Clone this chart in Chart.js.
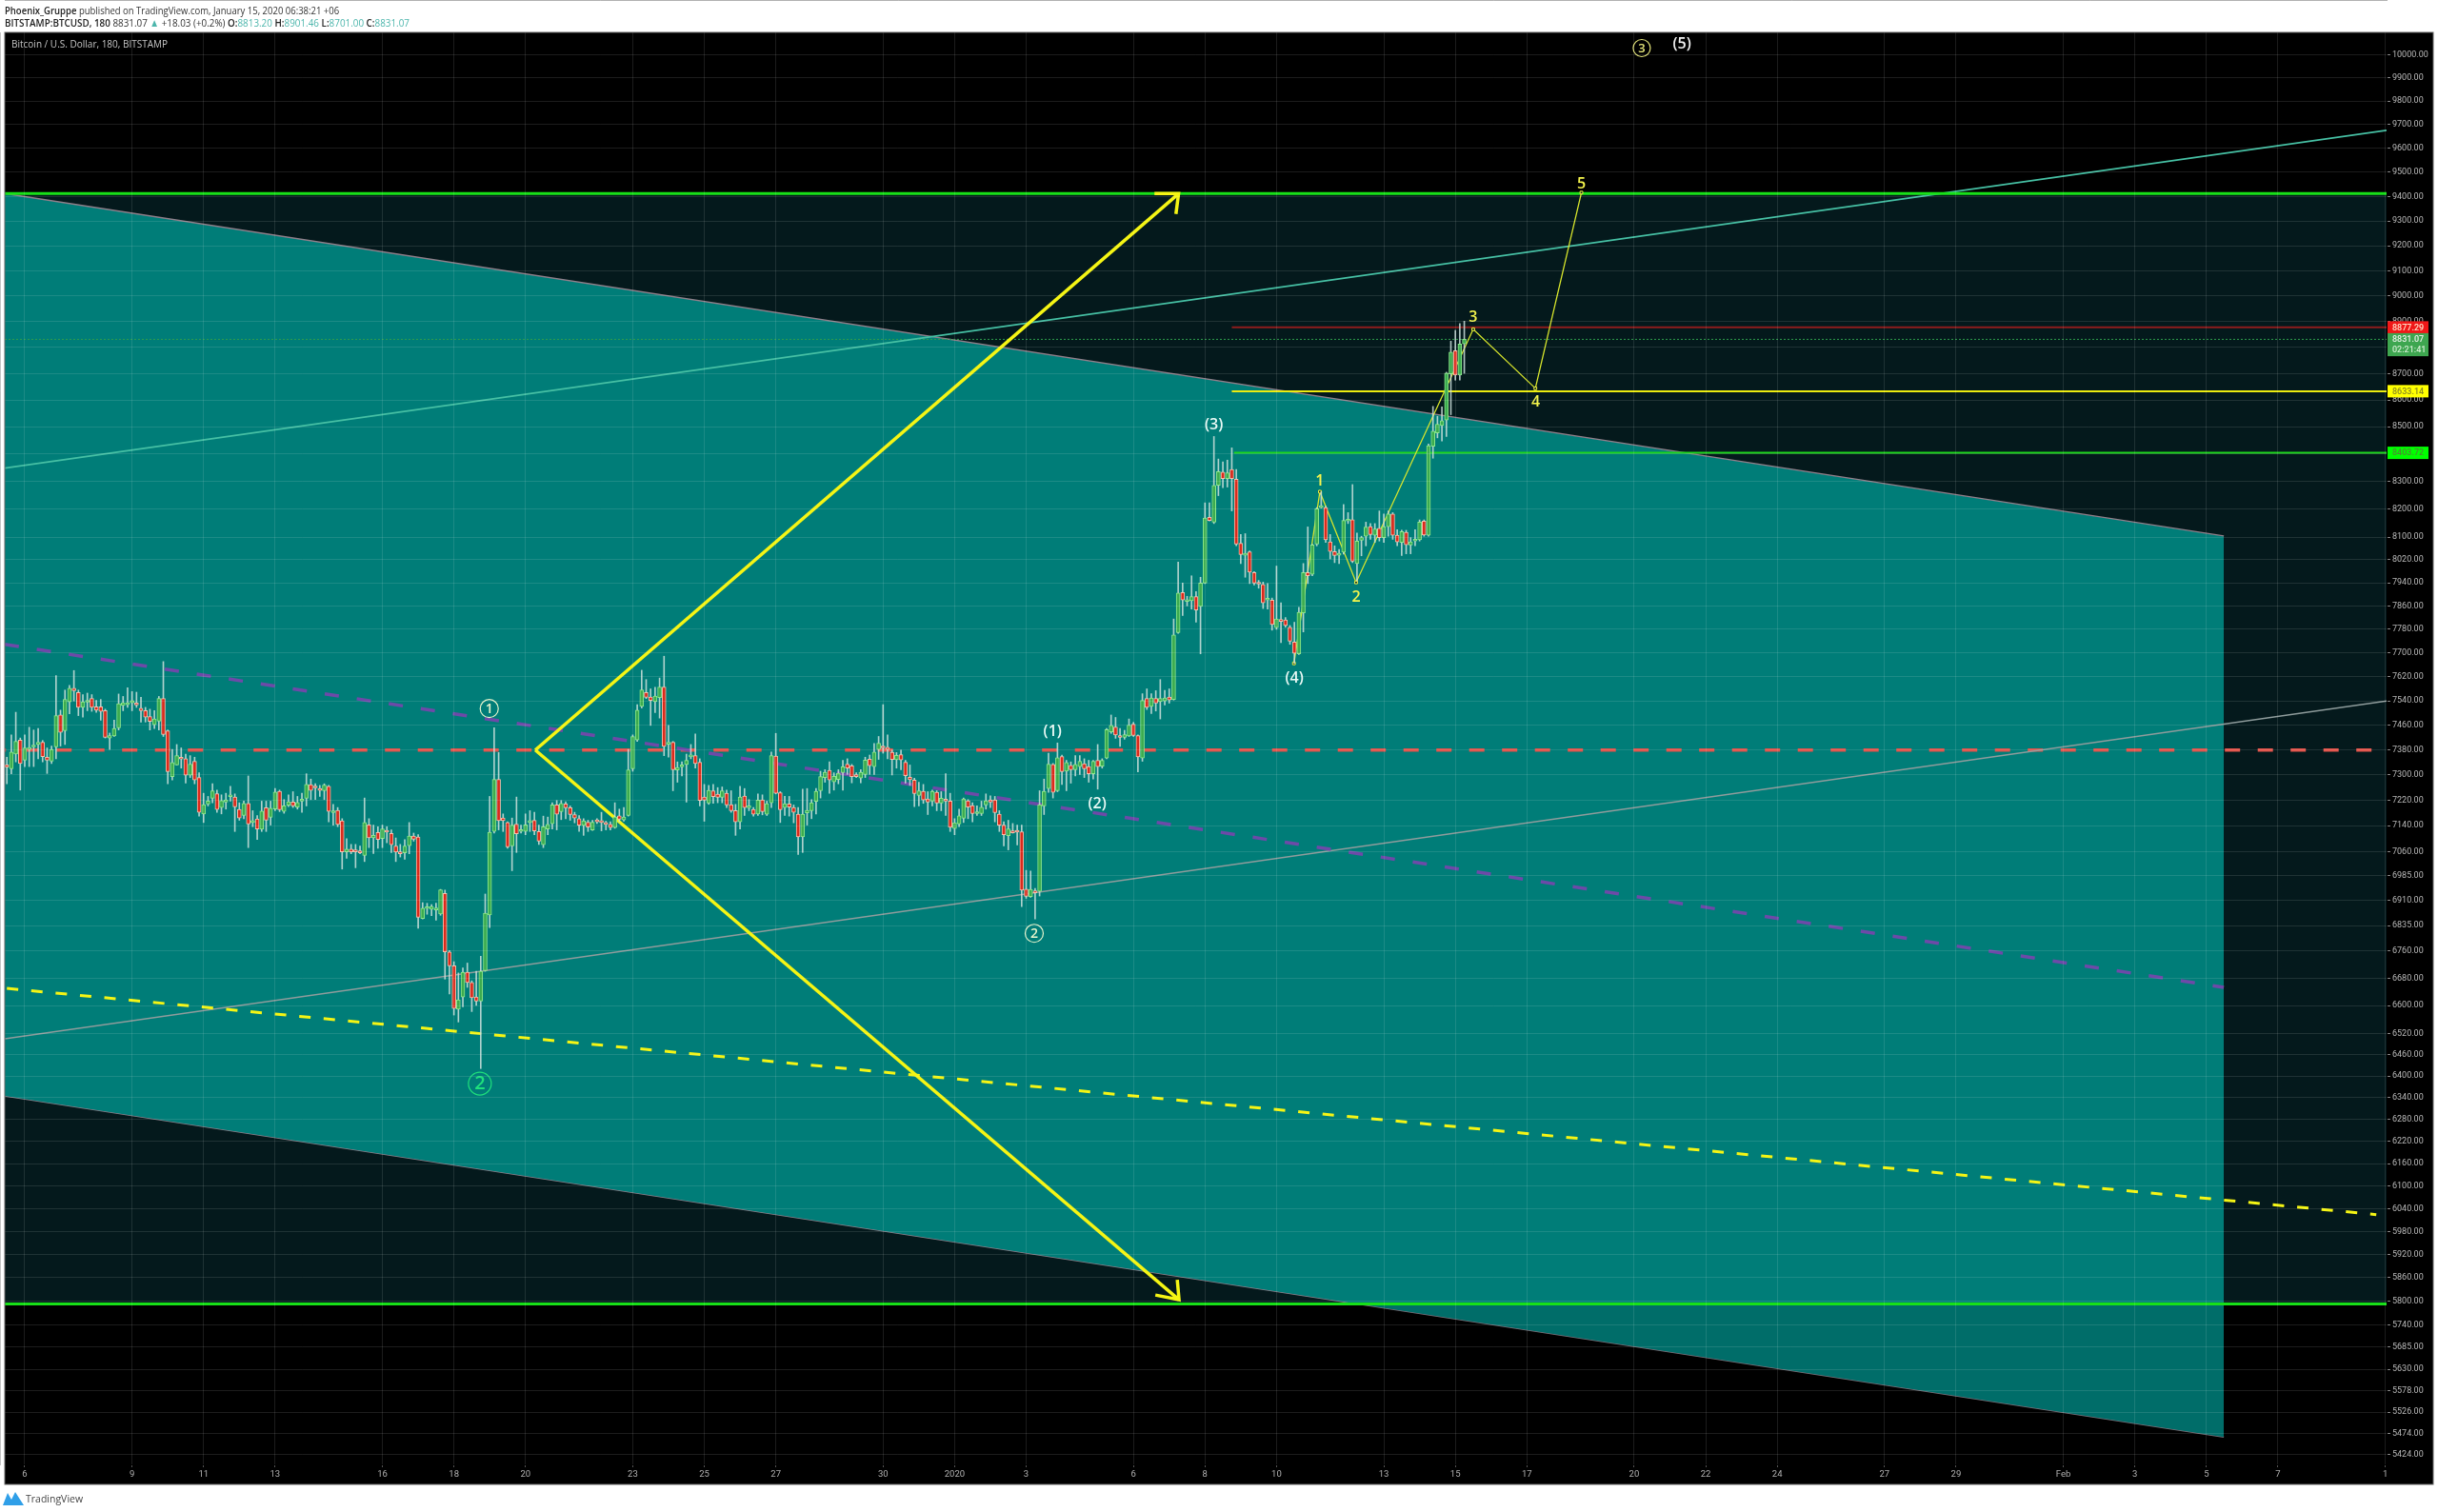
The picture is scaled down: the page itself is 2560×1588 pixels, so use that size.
<!DOCTYPE html>
<html>
<head>
<meta charset="utf-8">
<script src="https://cdn.jsdelivr.net/npm/chart.js@4"></script>
<style>
body { margin: 0; background: #fff; overflow: hidden; }
canvas { position: absolute; left: 0; top: 0; }
.head { position: absolute; left: 5px; font: 11.5px "Open Sans", sans-serif; color: #333; white-space: nowrap; transform-origin: left top; }
.head b { color: #222; font-weight: 600; }
.head span { color: #4db6ac; }
#logo { position: absolute; left: 3px; top: 1567px; }
#logoText { position: absolute; left: 27px; top: 1567px; font: 10.5px "Open Sans", sans-serif; color: #444; }
</style>
</head>
<body>
<canvas id="chart" width="2560" height="1588"></canvas>
<div class="head" style="top:3px;transform:scaleX(0.826)"><b>Phoenix_Gruppe</b> published on TradingView.com, January 15, 2020 06:38:21 +06</div>
<div class="head" style="top:16px;transform:scaleX(0.857)"><b>BITSTAMP:BTCUSD, 180</b> 8831.07 <span>▲</span> +18.03 (+0.2%) <b>O:</b><span>8813.20</span> <b>H:</b><span>8901.46</span> <b>L:</b><span>8701.00</span> <b>C:</b><span>8831.07</span></div>
<svg id="logo" width="22" height="14" viewBox="0 0 22 14"><path d="M0 14 L5 1 L9 8 L13 0 L22 14 Z" fill="#2f9fe8"/></svg>
<div id="logoText">TradingView</div>
<script>
// candle values, one candle every 3 hours
const opens = [
7332,7320,7367,7412,7347,7382,7390,7398,7405,7357,
7344,7390,7494,7443,7537,7582,7568,7519,7536,7548,
7521,7521,7508,7419,7426,7452,7525,7528,7534,7531,
7516,7508,7489,7462,7474,7548,7442,7295,7332,7356,
7352,7299,7344,7292,7177,7208,7226,7241,7197,7214,
7231,7230,7191,7172,7210,7150,7161,7129,7196,7166,
7192,7248,7185,7204,7214,7198,7217,7226,7269,7263,
7257,7250,7264,7181,7188,7155,7059,7067,7065,7059,
7048,7143,7102,7119,7100,7125,7116,7077,7059,7056,
7078,7108,7105,6856,6886,6884,6882,6870,6932,6757,
6716,6590,6625,6697,6667,6625,6613,6702,6867,7122,
7286,7164,7150,7077,7145,7122,7122,7150,7157,7122,
7081,7130,7146,7205,7184,7208,7196,7175,7162,7141,
7151,7127,7158,7152,7149,7144,7134,7171,7158,7172,
7320,7413,7522,7568,7553,7538,7551,7586,7399,7405,
7316,7326,7334,7358,7362,7341,7230,7211,7250,7239,
7229,7242,7206,7187,7152,7233,7196,7191,7177,7221,
7176,7212,7361,7244,7197,7208,7197,7176,7105,7180,
7187,7216,7250,7292,7315,7278,7286,7308,7335,7329,
7300,7290,7302,7351,7327,7382,7392,7389,7373,7349,
7365,7341,7293,7284,7235,7248,7224,7217,7245,7211,
7219,7217,7131,7145,7163,7218,7203,7178,7178,7205,
7221,7221,7176,7142,7109,7122,7122,7121,6945,6922,
6940,6938,7202,7257,7334,7250,7359,7312,7331,7317,
7327,7336,7327,7304,7347,7328,7354,7439,7455,7426,
7421,7426,7464,7427,7354,7548,7522,7548,7538,7540,
7553,7545,7769,7906,7875,7878,7892,7858,7939,8170,
8153,8285,8333,8310,8343,8307,8078,8036,8048,7975,
7939,7934,7880,7880,7786,7810,7812,7787,7737,7697,
7836,7975,7969,8075,8205,8205,8083,8049,8036,8047,
8157,8162,8007,8089,8103,8137,8106,8131,8098,8137,
8182,8107,8081,8117,8072,8086,8090,8157,8106,8428,
8477,8505,8525,8699,8787,8694,8813.2];
const highs = [
7357,7429,7503,7419,7429,7454,7445,7450,7411,7387,
7393,7624,7510,7576,7592,7641,7576,7561,7566,7561,
7542,7545,7513,7435,7477,7563,7555,7584,7571,7569,
7552,7519,7513,7508,7555,7671,7445,7382,7398,7387,
7367,7362,7357,7307,7242,7232,7272,7252,7237,7242,
7264,7240,7212,7217,7297,7187,7172,7217,7217,7217,
7257,7252,7222,7237,7247,7232,7242,7304,7287,7272,
7267,7272,7267,7207,7197,7162,7100,7082,7082,7077,
7227,7162,7142,7137,7142,7137,7127,7102,7082,7097,
7150,7117,7112,6904,6902,6898,6902,6944,6942,6761,
6728,6695,6710,6724,6672,6700,6744,6930,7232,7452,
7372,7177,7152,7164,7230,7142,7177,7187,7182,7142,
7170,7167,7212,7219,7219,7215,7202,7182,7172,7162,
7157,7157,7162,7182,7154,7152,7212,7192,7197,7382,
7429,7528,7642,7611,7580,7585,7616,7689,7460,7408,
7342,7342,7367,7398,7432,7352,7270,7267,7270,7260,
7262,7252,7250,7207,7264,7257,7222,7197,7240,7237,
7217,7374,7434,7247,7232,7232,7205,7197,7255,7257,
7222,7257,7312,7317,7342,7307,7317,7347,7352,7334,
7307,7317,7357,7364,7401,7424,7528,7429,7380,7372,
7380,7347,7332,7290,7277,7270,7247,7252,7250,7247,
7304,7242,7162,7192,7227,7222,7212,7202,7217,7240,
7234,7232,7187,7152,7157,7147,7142,7142,7002,7000,
6947,7250,7287,7370,7337,7403,7364,7347,7342,7362,
7362,7352,7347,7347,7398,7352,7450,7494,7486,7450,
7444,7481,7470,7429,7564,7580,7564,7574,7611,7575,
7580,7815,8012,7939,7893,7964,7909,7959,8222,8222,
8464,8381,8371,8377,8422,8343,8109,8112,8051,7979,
7948,7942,7937,7887,7998,7871,7820,7793,7804,7855,
8007,8136,8075,8205,8262,8210,8109,8069,8056,8216,
8187,8288,8114,8103,8153,8148,8148,8193,8182,8193,
8187,8126,8124,8124,8098,8126,8161,8161,8436,8576,
8539,8574,8705,8824,8866,8892,8901.46];
const lows = [
7272,7304,7342,7252,7327,7327,7327,7352,7342,7305,
7337,7352,7393,7398,7498,7540,7492,7487,7508,7506,
7503,7477,7419,7382,7424,7445,7508,7519,7508,7519,
7471,7471,7445,7450,7445,7424,7272,7284,7332,7322,
7274,7292,7272,7170,7150,7202,7212,7182,7177,7192,
7217,7122,7157,7162,7072,7137,7097,7122,7122,7142,
7187,7184,7179,7200,7197,7192,7182,7202,7222,7222,
7232,7222,7152,7142,7137,7006,7039,7053,7010,7053,
7029,7072,7054,7070,7072,7087,7057,7029,7043,7036,
7053,7092,6827,6855,6869,6865,6851,6866,6677,6634,
6573,6553,6597,6653,6583,6601,6421,6700,6829,7117,
7127,7122,7070,7001,7057,7117,7112,7122,7112,7082,
7072,7112,7130,7127,7159,7162,7157,7149,7122,7110,
7122,7125,7147,7124,7127,7127,7132,7152,7154,7170,
7312,7408,7517,7548,7460,7502,7484,7362,7357,7250,
7277,7297,7214,7352,7322,7202,7154,7207,7210,7212,
7212,7197,7182,7110,7130,7172,7187,7170,7172,7174,
7172,7197,7240,7150,7172,7170,7149,7051,7057,7142,
7162,7177,7227,7277,7242,7252,7272,7252,7302,7275,
7292,7275,7292,7302,7302,7350,7370,7352,7300,7322,
7317,7274,7267,7200,7202,7210,7175,7202,7187,7187,
7172,7122,7112,7137,7150,7162,7152,7172,7172,7192,
7197,7152,7122,7077,7065,7117,7080,6892,6917,6920,
6855,6924,7175,7245,7227,7247,7270,7250,7274,7297,
7302,7292,7277,7287,7255,7322,7352,7434,7418,7392,
7415,7424,7424,7310,7344,7512,7499,7507,7481,7527,
7533,7543,7766,7827,7860,7849,7804,7697,7937,8157,
8148,8248,8277,8279,8193,8069,8007,7959,7937,7932,
7921,7851,7849,7777,7780,7735,7787,7729,7665,7695,
7771,7937,7964,8069,8203,8081,8023,8010,8007,8040,
8148,8010,7946,8034,8069,8092,8081,8086,8081,8103,
8092,8069,8035,8041,8041,8069,8086,8103,8103,8384,
8459,8447,8464,8545,8675,8675,8701];
const closes = [
7325,7374,7408,7337,7387,7387,7395,7405,7359,7347,
7382,7492,7437,7545,7582,7574,7519,7537,7542,7519,
7510,7506,7421,7427,7450,7531,7534,7533,7541,7527,
7508,7487,7473,7481,7548,7430,7311,7340,7362,7351,
7299,7335,7284,7182,7206,7217,7250,7191,7219,7221,
7234,7199,7164,7210,7145,7155,7130,7186,7157,7195,
7246,7190,7202,7215,7202,7213,7221,7270,7251,7259,
7251,7268,7185,7185,7144,7059,7067,7059,7059,7056,
7150,7102,7110,7097,7130,7120,7081,7058,7053,7077,
7108,7098,6860,6887,6890,6892,6884,6943,6757,6716,
6592,6617,6697,6667,6623,6613,6700,6872,7120,7286,
7156,7156,7074,7142,7115,7125,7143,7154,7124,7092,
7137,7144,7205,7176,7210,7196,7175,7164,7142,7155,
7136,7151,7152,7150,7144,7134,7167,7160,7167,7316,
7424,7510,7577,7552,7542,7556,7586,7392,7405,7317,
7324,7330,7347,7360,7337,7219,7220,7251,7231,7229,
7250,7205,7187,7152,7230,7197,7198,7176,7220,7184,
7209,7362,7242,7190,7209,7198,7182,7105,7176,7188,
7212,7248,7295,7309,7284,7296,7306,7326,7322,7295,
7295,7309,7348,7330,7374,7402,7387,7382,7350,7363,
7348,7298,7285,7241,7250,7221,7214,7248,7211,7226,
7217,7135,7149,7171,7224,7198,7178,7184,7198,7218,
7214,7181,7142,7112,7130,7118,7120,6942,6923,6944,
6934,7205,7248,7335,7245,7355,7311,7340,7317,7334,
7344,7320,7304,7344,7327,7347,7446,7460,7429,7421,
7430,7461,7427,7358,7542,7519,7550,7533,7548,7550,
7543,7761,7904,7880,7880,7892,7846,7939,8168,8159,
8285,8335,8310,8331,8310,8075,8038,8043,7977,7939,
7935,7870,7884,7796,7815,7807,7793,7740,7699,7838,
7975,7964,8072,8201,8210,8090,8049,8035,8043,8159,
8161,8015,8086,8098,8135,8109,8129,8098,8137,8182,
8106,8083,8119,8073,8083,8092,8153,8107,8430,8484,
8509,8523,8702,8782,8694,8813,8831.07];

// axis ticks
const priceTicks = [10000,9900,9800,9700,9600,9500,9400,9300,9200,9100,9000,8900,8800,8700,8600,8500,8400,8300,8200,8100,
  8020,7940,7860,7780,7700,7620,7540,7460,7380,7300,7220,7140,7060,6985,6910,6835,6760,6680,6600,6520,6460,6400,6340,6280,
  6220,6160,6100,6040,5980,5920,5860,5800,5740,5685,5630,5578,5526,5474,5424];
const timeLabels = ['6','9','11','13','16','18','20','23','25','27','30','2020','3','6','8','10','13','15','17','20','22','24','27','29','Feb','3','5','7','1'];
const timeTicks = [4,28,44,60,84,100,116,140,156,172,196,212,228,252,268,284,308,324,340,364,380,396,420,436,460,476,492,508,532];

// drawn lines, [candle number, price]
const zoneTop = [[-0.47,9412],[532.3,9412]];
const zoneBottom = [[-0.47,5793],[532.3,5793]];
const channelTop = [[-0.47,9412],[495.9,8104]];
const channelBottom = [[-0.47,6345],[495.9,5466]];
const purpleLine = [[-0.47,7729],[495.9,6653]];
const yellowDashed = [[0,6650],[530,6024]];
const grayLine = [[-0.47,6505],[532.3,7540]];
const tealLine = [[-0.47,8348],[532.3,9676]];
const redDashed = [[-0.47,7380],[532.3,7380]];
const lastPriceLine = [[-0.47,8831.07],[532.3,8831.07]];
const redLevel = [[274,8877.29],[532.3,8877.29]];
const yellowLevel = [[274,8633.14],[532.3,8633.14]];
const greenLevel = [[274.5,8403.72],[532.3,8403.72]];
const arrowUp = [[118.2,7380],[262.1,9412]];
const arrowUpHead = [[256.7,9412],[262.1,9412],[261.5,9328]];
const arrowDown = [[118.2,7380],[262.2,5804]];
const arrowDownHead = [[261.8,5855],[262.2,5804],[256.9,5816]];
const wavePath = [[287.9,7665],[293.7,8262],[301.8,7941],[328,8870],[341.9,8644],[352.2,9416]];

// text on the chart: candle number, price, text, colour, font size
const waveLabels = [
  [270,8505,'(3)','#eafaf6',16],[288,7616,'(4)','#eafaf6',16],[233.9,7441,'(1)','#eafaf6',16],[243.9,7209,'(2)','#eafaf6',16],
  [374.7,10045,'(5)','#f2f2f2',16],
  [293.7,8300,'1','#f4f44c',16],[301.8,7890,'2','#f4f44c',16],[328,8915,'3','#f4f44c',16],[342,8590,'4','#f4f44c',16],[352.2,9452,'5','#f4f44c',16]];
const circledLabels = [
  [107.9,7515,'1','#e4f4cc',9.5,14],[105.8,6379,'2','#1fe07c',12,20],[229.8,6812,'2','#e4f4cc',9.5,14],[365.7,10030,'3','#e6e67a',9,13]];
// price tags on the axis: price, text, background, text colour
const priceTags = [
  [8877.29,'8877.29','#f01818','#ffe0c8'],[8831.07,'8831.07','#3ea650','#e8f0e8'],[8790,'02:21:41','#3ea650','#cfeccf'],
  [8633.14,'8633.14','#ffff00','#8a8a20'],[8403.72,'8403.72','#00ff00','#4c8c30']];

const FONT = '"Open Sans", sans-serif';
const AXIS_FONT = 'Roboto, sans-serif';

function toPoints(list) {
    return list.map(p => ({x: p[0], y: p[1]}));
}

function lineSet(list, color, width, order, extra) {
    return Object.assign({
        type: 'line', data: toPoints(list), borderColor: color, borderWidth: width,
        pointRadius: 0, fill: false, tension: 0, order: order
    }, extra || {});
}

const upOrDown = closes.map((c, i) => c >= opens[i]);
const wickData = opens.map((o, i) => ({x: i, y: [lows[i], highs[i]]}));
const bodyData = opens.map((o, i) => ({x: i, y: [Math.min(o, closes[i]), Math.max(o, closes[i])]}));

const datasets = [
    lineSet(zoneTop, 'rgba(0,0,0,0)', 0, 100, {fill: {target: 1}, backgroundColor: '#04191c'}),
    lineSet(zoneBottom, 'rgba(0,0,0,0)', 0, 100),
    lineSet(channelTop, '#8f7f8a', 1.5, 90, {fill: {target: 3}, backgroundColor: '#007d78'}),
    lineSet(channelBottom, '#8f7f8a', 1.5, 90),
    lineSet(zoneBottom, 'rgba(0,0,0,0)', 0, 85, {fill: 'start', backgroundColor: 'rgba(0,0,0,0.12)'}),
    lineSet(purpleLine, '#6d4aa8', 3.5, 70, {borderDash: [15, 19]}),
    lineSet(yellowDashed, '#f5f514', 3, 70, {borderDash: [12, 13.7]}),
    lineSet(grayLine, '#8f9c9c', 1.6, 70),
    lineSet(tealLine, '#46c0a4', 1.6, 70),
    lineSet(redDashed, '#e2534a', 3.5, 70, {borderDash: [16, 18.5], borderDashOffset: 14.8}),
    lineSet(lastPriceLine, '#2e9e4b', 1, 70, {borderDash: [2, 2]}),
    lineSet(redLevel, '#8e1c1c', 2, 70),
    lineSet(yellowLevel, '#ecec10', 2, 70),
    lineSet(greenLevel, '#1cd61c', 2, 70),
    lineSet(zoneTop, '#18e018', 3, 65),
    lineSet(zoneBottom, '#18e018', 3, 65),
    lineSet(arrowUp, '#f5f514', 3.5, 60),
    lineSet(arrowUpHead, '#f5f514', 3.5, 60),
    lineSet(arrowDown, '#f5f514', 3.5, 60),
    lineSet(arrowDownHead, '#f5f514', 3.5, 60),
    lineSet(wavePath, '#d8e62c', 1.3, 50, {pointRadius: 2, pointStyle: 'rect', pointBackgroundColor: '#0a2a20', pointBorderColor: '#f0f040', pointBorderWidth: 1}),
    {
        type: 'bar', data: wickData, barThickness: 1, backgroundColor: 'rgba(205,225,220,0.85)',
        borderWidth: 0, grouped: false, order: 20
    },
    {
        type: 'bar', data: bodyData, barThickness: 4, grouped: false, order: 10, minBarLength: 2,
        backgroundColor: upOrDown.map(u => u ? '#3cab50' : '#da2a1c'),
        borderColor: upOrDown.map(u => u ? '#8ce88a' : '#f8bca8'),
        borderWidth: 1, borderSkipped: false
    }
];

const framePlugin = {
    id: 'frame',
    beforeDraw(chart) {
        const c = chart.ctx;
        c.save();
        c.fillStyle = '#000';
        c.fillRect(5, 34, 2550, 1525);
        c.restore();
    },
    afterDraw(chart) {
        const c = chart.ctx;
        const y = chart.scales.y;
        c.save();
        // axis tags
        c.font = '500 9px ' + AXIS_FONT;
        c.textBaseline = 'middle';
        priceTags.forEach(t => {
            const py = y.getPixelForValue(t[0]);
            c.fillStyle = t[2];
            c.fillRect(2507, py - 6.5, 43, 13);
            c.fillStyle = t[3];
            c.fillText(t[1], 2512, py + 0.5);
        });
        c.strokeStyle = '#666';
        c.lineWidth = 1;
        c.strokeRect(5, 34, 2550, 1525);
        c.fillStyle = '#c4c4c4';
        c.font = '10px ' + FONT;
        c.fillText('Bitcoin / U.S. Dollar, 180, BITSTAMP', 12, 47);
        c.restore();
    }
};

const labelPlugin = {
    id: 'waveText',
    afterDatasetsDraw(chart) {
        const c = chart.ctx;
        const xs = chart.scales.x;
        const ys = chart.scales.y;
        c.save();
        c.textAlign = 'center';
        c.textBaseline = 'middle';
        waveLabels.forEach(l => {
            c.font = '600 ' + l[4] + 'px ' + FONT;
            c.fillStyle = l[3];
            c.fillText(l[2], xs.getPixelForValue(l[0]), ys.getPixelForValue(l[1]));
        });
        circledLabels.forEach(l => {
            const px = xs.getPixelForValue(l[0]);
            const py = ys.getPixelForValue(l[1]);
            c.strokeStyle = l[3];
            c.fillStyle = l[3];
            c.lineWidth = 1.2;
            c.beginPath();
            c.arc(px, py, l[4], 0, Math.PI * 2);
            c.stroke();
            c.font = '600 ' + l[5] + 'px ' + FONT;
            c.fillText(l[2], px, py + 0.5);
        });
        c.restore();
    }
};

new Chart(document.getElementById('chart'), {
    type: 'line',
    data: {datasets: datasets},
    plugins: [framePlugin, labelPlugin],
    options: {
        responsive: false,
        animation: false,
        events: [],
        layout: {padding: {left: 5, top: 34, right: 5, bottom: 29}},
        plugins: {legend: {display: false}, tooltip: {enabled: false}},
        scales: {
            x: {
                type: 'linear', min: -0.47, max: 532.3, offset: false,
                afterBuildTicks(axis) { axis.ticks = timeTicks.map(v => ({value: v})); },
                afterFit(axis) { axis.height = 21; },
                ticks: {
                    autoSkip: false, maxRotation: 0, color: '#b0b0b0', padding: 2,
                    font: {size: 9.5, family: AXIS_FONT},
                    callback: v => timeLabels[timeTicks.indexOf(v)]
                },
                grid: {color: 'rgba(255,255,255,0.11)', z: 1, tickLength: 3, tickColor: '#555', offset: false},
                border: {color: '#666'}
            },
            y: {
                type: 'logarithmic', position: 'right', min: 5401, max: 10099,
                afterBuildTicks(axis) { axis.ticks = priceTicks.map(v => ({value: v})); },
                afterFit(axis) { axis.width = 49; },
                ticks: {
                    autoSkip: false, color: '#b8b8b8', padding: 2,
                    font: {size: 9, family: AXIS_FONT},
                    callback: v => Number(v).toFixed(2)
                },
                grid: {color: 'rgba(255,255,255,0.11)', z: 1, tickLength: 4, tickColor: '#888'},
                border: {color: '#8a8a8a'}
            }
        }
    }
});
</script>
</body>
</html>
